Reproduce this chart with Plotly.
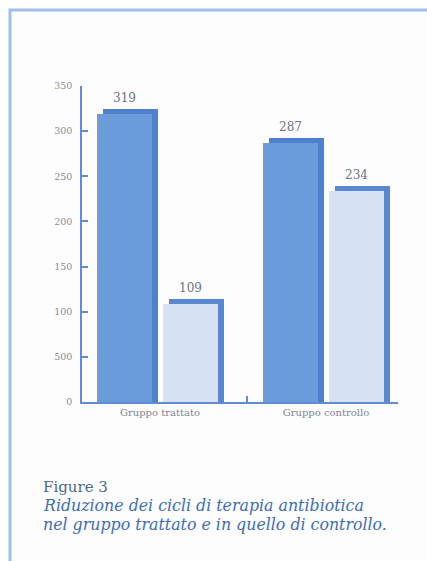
import plotly.graph_objects as go

# --- data ---
groups = ["Gruppo trattato", "Gruppo controllo"]
cicli_prima = [319, 287]     # first bar of each group
cicli_dopo = [109, 234]      # second bar of each group
ytick_vals = [0, 50, 100, 150, 200, 250, 300, 350]
ytick_text = ["0", "500", "100", "150", "200", "250", "300", "350"]
caption_title = "Figure 3"
caption_lines = ["Riduzione dei cicli di terapia antibiotica",
                 "nel gruppo trattato e in quello di controllo."]

# --- geometry / style ---
W, H = 427, 561
ML, MR, MT, MB = 82, 29, 86, 159
PW, PH = W - ML - MR, H - MT - MB
XR = [-0.47, 1.434]
YR = [0, 350]
px_x = PW / (XR[1] - XR[0])
px_y = PH / (YR[1] - YR[0])

BAR_W = 55 / px_x
OFF_A, OFF_B = -0.38, 0.02
SH_DX = 6 / px_x          # depth of the extruded edge, horizontal
SH_DY = 5 / px_y          # depth of the extruded edge, vertical

DARK = "rgb(106,155,218)"
DARK_EDGE = "rgb(78,128,203)"
LIGHT = "rgb(214,226,244)"
LIGHT_EDGE = "rgb(88,136,208)"
AXIS = "rgb(98,140,210)"
SERIF = "DejaVu Serif"

xpos = list(range(len(groups)))

fig = go.Figure()


def bar_pair(vals, off, face, edge):
    # extruded edge behind, face in front
    fig.add_trace(go.Bar(x=xpos, y=[v + SH_DY for v in vals], width=BAR_W,
                         offset=off + SH_DX, marker=dict(color=edge, line_width=0),
                         hoverinfo="skip", showlegend=False))
    fig.add_trace(go.Bar(x=xpos, y=vals, width=BAR_W, offset=off,
                         marker=dict(color=face, line_width=0),
                         showlegend=False))


bar_pair(cicli_prima, OFF_A, DARK, DARK_EDGE)
bar_pair(cicli_dopo, OFF_B, LIGHT, LIGHT_EDGE)

# value labels above each bar
for vals, off in ((cicli_prima, OFF_A), (cicli_dopo, OFF_B)):
    for xi, v in zip(xpos, vals):
        fig.add_annotation(x=xi + off + BAR_W / 2, y=v + SH_DY, text=str(v),
                           showarrow=False, yanchor="bottom", yshift=2,
                           font=dict(family=SERIF, size=12, color="#6a7488"))

# boundary tick marks on the category axis
fig.add_trace(go.Scatter(x=[0.5], y=[0], xaxis="x2", mode="markers",
                         marker=dict(opacity=0), hoverinfo="skip", showlegend=False))


def to_px(px):
    return (px - ML) / PW


def to_py(py):
    return (H - MB - py) / PH


# outer frame
fig.add_shape(type="rect", xref="paper", yref="paper",
              x0=to_px(10), x1=to_px(450), y0=to_py(10), y1=to_py(600),
              line=dict(color="rgb(160,192,232)", width=3),
              fillcolor="#fdfdfd", layer="below")

# caption
fig.add_annotation(xref="paper", yref="paper", x=to_px(41), y=to_py(487),
                   xanchor="left", yanchor="middle", showarrow=False,
                   text=caption_title,
                   font=dict(family=SERIF, size=15, color="rgb(78,105,135)"))
for i, line in enumerate(caption_lines):
    fig.add_annotation(xref="paper", yref="paper", x=to_px(41), y=to_py(505 + 19 * i),
                       xanchor="left", yanchor="middle", showarrow=False,
                       text="<i>" + line + "</i>",
                       font=dict(family=SERIF, size=15.8, color="rgb(62,110,178)"))

fig.update_layout(
    width=W, height=H,
    margin=dict(l=ML, r=MR, t=MT, b=MB),
    paper_bgcolor="white", plot_bgcolor="rgba(0,0,0,0)",
    barmode="overlay", bargap=0,
    xaxis=dict(range=XR, tickvals=xpos, ticktext=groups, ticks="",
               showline=True, linecolor=AXIS, linewidth=1.5,
               showgrid=False, zeroline=False, fixedrange=True,
               tickfont=dict(family=SERIF, size=10, color="#7a8496")),
    xaxis2=dict(range=XR, overlaying="x", anchor="y", side="bottom",
                tickvals=[0.524, 1.428], ticks="inside", ticklen=6,
                tickcolor=AXIS, tickwidth=1.5, showticklabels=False,
                showgrid=False, zeroline=False, showline=False),
    yaxis=dict(range=YR, tickvals=ytick_vals, ticktext=ytick_text,
               ticks="inside", ticklen=6, tickcolor=AXIS, tickwidth=1.5,
               showline=True, linecolor=AXIS, linewidth=1.5,
               showgrid=False, zeroline=False, ticklabelstandoff=6,
               tickfont=dict(family=SERIF, size=9.5, color="#868c9a")),
)

fig.write_html("out.html")
